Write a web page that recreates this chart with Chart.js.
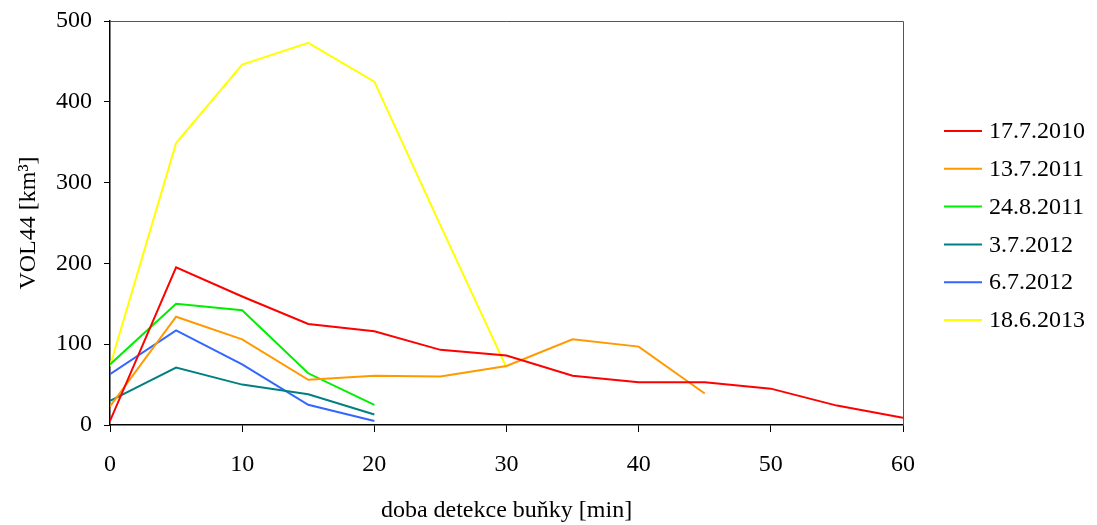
<!DOCTYPE html>
<html>
<head>
<meta charset="utf-8">
<script src="https://cdn.jsdelivr.net/npm/chart.js@4.4.0/dist/chart.umd.min.js"></script>
<style>
  html, body { margin: 0; padding: 0; background: #fff; }
  #wrap { width: 1097px; height: 525px; }
</style>
</head>
<body>
<div id="wrap"><canvas id="vol-chart" width="1097" height="525"></canvas></div>
<script>
// time since cell detection [min]
const minutes = [0, 5, 10, 15, 20, 25, 30, 35, 40, 45, 50, 55, 60];

// VOL44 per storm day
const seriesNames = ['17.7.2010', '13.7.2011', '24.8.2011', '3.7.2012', '6.7.2012', '18.6.2013'];
const vol_20100717 = [5, 195, 159, 125, 116, 93, 86, 61, 53, 53, 45, 24, 9];
const vol_20110713 = [23, 134, 106, 56, 61, 60, 73, 106, 97, 39];
const vol_20110824 = [75, 150, 142, 64, 25];
const vol_20120703 = [30, 71, 50, 38, 13];
const vol_20120706 = [63, 117, 75, 25, 5];
const vol_20130618 = [73, 349, 446, 473, 425, 247, 71];

const xTicks = [0, 10, 20, 30, 40, 50, 60];
const yTicks = [0, 100, 200, 300, 400, 500];

const colors = ['#ff0000', '#ff9900', '#00ee00', '#008080', '#3366ff', '#ffff00'];
const allValues = [vol_20100717, vol_20110713, vol_20110824, vol_20120703, vol_20120706, vol_20130618];

const serif = "'Liberation Serif', 'Times New Roman', serif";

function toPoints(values) {
    return values.map((v, i) => ({ x: minutes[i], y: v }));
}

// legend drawn by hand to the right of the plot, plus the plot frame
const sideLegend = {
    id: 'sideLegend',
    afterDraw(chart) {
        const ctx = chart.ctx;
        const area = chart.chartArea;
        ctx.save();
        ctx.strokeStyle = '#555';
        ctx.lineWidth = 1;
        ctx.beginPath();
        ctx.moveTo(area.left, area.top + 0.5);
        ctx.lineTo(area.right + 0.5, area.top + 0.5);
        ctx.lineTo(area.right + 0.5, area.bottom);
        ctx.stroke();

        ctx.font = '24px ' + serif;
        ctx.textBaseline = 'middle';
        ctx.fillStyle = '#000';
        chart.data.datasets.forEach((ds, i) => {
            const y = 131 + i * 37.8;
            ctx.strokeStyle = ds.borderColor;
            ctx.lineWidth = 2;
            ctx.beginPath();
            ctx.moveTo(944, y);
            ctx.lineTo(982, y);
            ctx.stroke();
            ctx.fillText(ds.label, 989, y + 1);
        });
        ctx.restore();
    }
};

new Chart(document.getElementById('vol-chart').getContext('2d'), {
    type: 'line',
    data: {
        datasets: allValues.map((vals, i) => ({
            label: seriesNames[i],
            data: toPoints(vals),
            borderColor: colors[i],
            backgroundColor: colors[i],
            borderWidth: 2,
            pointRadius: 0,
            tension: 0,
            fill: false
        }))
    },
    options: {
        responsive: false,
        animation: false,
        layout: {
            padding: { left: 0, top: 21, right: 194, bottom: 0 }
        },
        plugins: {
            legend: { display: false },
            tooltip: { enabled: false }
        },
        scales: {
            x: {
                type: 'linear',
                min: 0,
                max: 60,
                afterBuildTicks: axis => { axis.ticks = xTicks.map(v => ({ value: v })); },
                afterFit: axis => {
                    axis.height = 100;
                    axis.paddingLeft = 0;
                    axis.paddingRight = 0;
                },
                grid: { drawOnChartArea: false, drawTicks: true, tickLength: 7, color: '#000' },
                border: { color: '#000', width: 1.5 },
                ticks: { color: '#000', padding: 18, maxRotation: 0, font: { family: serif, size: 24 } },
                title: {
                    display: true,
                    text: 'doba detekce buňky [min]',
                    color: '#000',
                    padding: { top: 0, bottom: 0 },
                    font: { family: serif, size: 24 }
                }
            },
            y: {
                min: 0,
                max: 500,
                afterBuildTicks: axis => { axis.ticks = yTicks.map(v => ({ value: v })); },
                afterFit: axis => {
                    axis.width = 110;
                    axis.paddingTop = 0;
                    axis.paddingBottom = 0;
                },
                grid: { drawOnChartArea: false, drawTicks: true, tickLength: 6, color: '#000' },
                border: { color: '#000', width: 1.5 },
                ticks: { color: '#000', padding: 12, font: { family: serif, size: 24 } },
                title: {
                    display: true,
                    text: 'VOL44 [km³]',
                    color: '#000',
                    padding: { top: 14, bottom: 0 },
                    font: { family: serif, size: 24 }
                }
            }
        }
    },
    plugins: [sideLegend]
});
</script>
</body>
</html>
